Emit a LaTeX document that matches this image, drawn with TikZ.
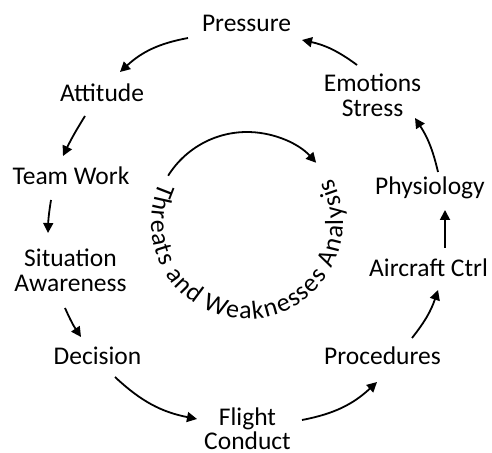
\documentclass[tikz,border=0pt]{standalone}
\usepackage{fontspec}
\setmainfont{Carlito}
\usetikzlibrary{arrows.meta,calc,decorations.text}
\begin{document}
\begin{tikzpicture}[x=1pt,y=1pt,
  lbl/.style={anchor=base,inner sep=0pt,align=center,font=\fontsize{25.5}{25}\selectfont},
  arr/.style={line width=1.8pt,-{Triangle[length=10pt,width=10pt]}}]
\useasboundingbox (0,0) rectangle (492,452);
\node[lbl] (Pres) at (246.5,420) {Pressure};
\node[lbl] (Att) at (102,350.5) {Attitude};
\node[lbl] (Team) at (71,267) {Team Work};
\node[lbl] (Sit) at (70.5,160) {Situation\\Awareness};
\node[lbl] (Dec) at (97.5,87) {Decision};
\node[lbl] (Fli) at (247.5,2) {Flight\\Conduct};
\node[lbl] (Proc) at (382.5,87) {Procedures};
\node[lbl] (Air) at (428.5,175.3) {Aircraft Ctrl};
\node[lbl] (Phys) at (430,257) {Physiology};
\node[lbl] (Emo) at (372.5,335.3) {Emotions\\Stress};

\draw[arr] ($(Emo.base)+(-15.5,51.7)$) to[bend right=12] ($(Pres.base)+(55.5,-8)$);
\draw[arr] ($(Pres.base)+(-58.5,-6)$) to[bend right=16] ($(Att.base)+(18,29.5)$);
\draw[arr] ($(Att.base)+(-17,-14.5)$) to[bend right=3] ($(Team.base)+(-8,29)$);
\draw[arr] ($(Team.base)+(-20,-15)$) to[bend right=4] ($(Sit.base)+(-22.5,59)$);
\draw[arr] ($(Sit.base)+(-5.5,-16)$) to[bend right=5] ($(Dec.base)+(-16.5,28)$);
\draw[arr] ($(Dec.base)+(17.5,-12)$) to[bend right=16] ($(Fli.base)+(-50.5,31)$);
\draw[arr] ($(Fli.base)+(54.5,30)$) to[bend right=16] ($(Proc.base)+(-5.5,-17)$);
\draw[arr] ($(Proc.base)+(29.5,27)$) to[bend right=10] ($(Air.base)+(9.5,-13.3)$);
\draw[arr] ($(Air.base)+(16.5,28.7)$) -- ($(Phys.base)+(15,-15)$);
\draw[arr] ($(Phys.base)+(8,23)$) to[bend right=10] ($(Emo.base)+(42.5,-1.3)$);

\coordinate (C) at (247,227);
\coordinate (T) at (247,229);
\draw[arr] ($(C)+(148:93)$) arc[start angle=148,end angle=42,radius=93];
\path[decorate,decoration={text along path,text align=fit to path,
  text={|\fontsize{26}{28}\selectfont|Threats and Weaknesses Analysis}}]
  ($(T)+(155:96)$) arc[start angle=155,end angle=388,radius=96];
\end{tikzpicture}
\end{document}
